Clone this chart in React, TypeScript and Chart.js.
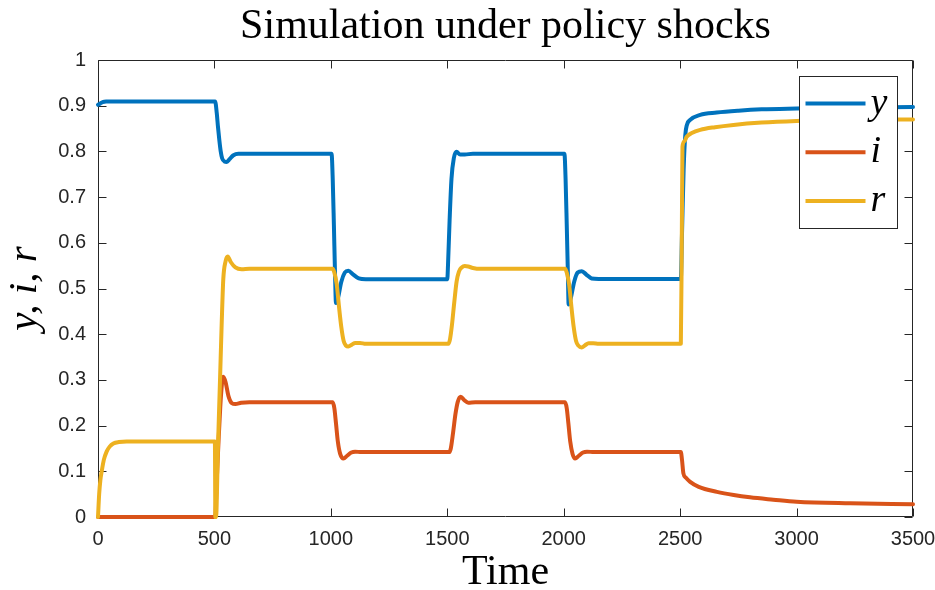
import React, { useEffect, useRef } from 'react';
import { Chart, registerables } from 'chart.js';

Chart.register(...registerables);

// ---------- data ----------
const xTicks = [0, 500, 1000, 1500, 2000, 2500, 3000, 3500];
const xTickLabels = ['0', '500', '1000', '1500', '2000', '2500', '3000', '3500'];
const yTicks = [0, 0.1, 0.2, 0.3, 0.4, 0.5, 0.6, 0.7, 0.8, 0.9, 1];
const yTickLabels = ['0', '0.1', '0.2', '0.3', '0.4', '0.5', '0.6', '0.7', '0.8', '0.9', '1'];

const seriesNames = ['y', 'i', 'r'];
const seriesColors = ['#0072BD', '#D95319', '#EDB120'];

// output y
const yTime = [0, 10, 20, 35, 503, 510, 515, 521, 527, 533, 543, 553, 565, 580, 603, 640,
  1003, 1008, 1013, 1018, 1022, 1030, 1045, 1060, 1075, 1095, 1120, 1150,
  1500, 1503, 1510, 1518, 1528, 1540, 1555, 1575, 1610,
  2003, 2008, 2013, 2018, 2021, 2030, 2045, 2060, 2078, 2098, 2120, 2150,
  2503, 2508, 2515, 2522, 2529, 2543, 2586, 2657, 2750, 2850, 3000, 3200, 3500];
const yValues = [0.902, 0.905, 0.908, 0.909, 0.909, 0.884, 0.855, 0.825, 0.80, 0.785, 0.778, 0.777, 0.783, 0.791, 0.795, 0.795,
  0.795, 0.74, 0.64, 0.53, 0.468, 0.478, 0.515, 0.535, 0.539, 0.531, 0.522, 0.520,
  0.520, 0.55, 0.65, 0.74, 0.785, 0.799, 0.793, 0.793, 0.795,
  0.795, 0.74, 0.64, 0.53, 0.465, 0.478, 0.515, 0.535, 0.538, 0.530, 0.522, 0.521,
  0.521, 0.62, 0.76, 0.835, 0.858, 0.869, 0.880, 0.885, 0.889, 0.892, 0.894, 0.896, 0.897];

// interest rate i
const iTime = [0, 503, 510, 518, 525, 532, 538, 548, 560, 575, 590, 615, 650,
  1008, 1015, 1022, 1030, 1040, 1054, 1070, 1088, 1104, 1130,
  1508, 1515, 1525, 1535, 1545, 1558, 1572, 1590, 1620,
  2006, 2013, 2020, 2028, 2038, 2049, 2065, 2083, 2100, 2130,
  2503, 2508, 2514, 2525, 2543, 2580, 2658, 2730, 2800, 2900, 3000, 3230, 3500];
const iValues = [0, 0, 0.08, 0.17, 0.24, 0.29, 0.307, 0.295, 0.265, 0.249, 0.247, 0.250, 0.251,
  0.251, 0.238, 0.205, 0.165, 0.138, 0.128, 0.134, 0.141, 0.143, 0.142,
  0.142, 0.150, 0.185, 0.225, 0.252, 0.263, 0.256, 0.250, 0.251,
  0.251, 0.238, 0.205, 0.165, 0.138, 0.128, 0.134, 0.141, 0.143, 0.142,
  0.142, 0.125, 0.0955, 0.086, 0.077, 0.066, 0.055, 0.048, 0.043, 0.038, 0.0335, 0.030, 0.028];

// r
const rTime = [0, 5, 10, 16, 25, 37, 50, 66, 90, 123, 502, 504, 507, 515, 524, 531, 538, 548, 557, 570, 590, 617, 650,
  1008, 1015, 1025, 1035, 1045, 1055, 1065, 1075, 1090, 1105, 1125, 1150,
  1505, 1512, 1520, 1530, 1540, 1550, 1562, 1575, 1590, 1610, 1640,
  2006, 2013, 2023, 2033, 2043, 2053, 2063, 2077, 2092, 2107, 2127, 2150,
  2503, 2507, 2510, 2518, 2528, 2550, 2586, 2650, 2729, 2850, 3000, 3200, 3500];
const rValues = [0, 0.05, 0.08, 0.10, 0.125, 0.143, 0.154, 0.161, 0.164, 0.165, 0.165, 0, 0, 0.15, 0.30, 0.42, 0.52, 0.56, 0.570, 0.558, 0.546, 0.542, 0.543,
  0.543, 0.535, 0.51, 0.46, 0.415, 0.385, 0.375, 0.373, 0.377, 0.381, 0.381, 0.379,
  0.379, 0.39, 0.42, 0.47, 0.515, 0.537, 0.546, 0.549, 0.548, 0.545, 0.543,
  0.543, 0.535, 0.51, 0.46, 0.415, 0.385, 0.375, 0.371, 0.376, 0.380, 0.380, 0.379,
  0.379, 0.60, 0.81, 0.822, 0.832, 0.840, 0.847, 0.853, 0.858, 0.863, 0.8665, 0.869, 0.870];

const toPoints = (t: number[], v: number[]) => t.map((tt, k) => ({ x: tt, y: v[k] }));

const AXIS_COLOR = '#262626';

const framePlugin = {
  id: 'frame',
  beforeDatasetsDraw(chart: any) {
    const { ctx, chartArea } = chart;
    const { left, right, top, bottom } = chartArea;
    const xs = chart.scales.x;
    const ys = chart.scales.y;
    const L = 8;
    ctx.save();
    ctx.strokeStyle = AXIS_COLOR;
    ctx.lineWidth = 1;
    ctx.beginPath();
    const l = Math.round(left) + 0.5, r = Math.round(right) - 0.5;
    const t = Math.round(top) + 0.5, b = Math.round(bottom) - 0.5;
    ctx.moveTo(l, t); ctx.lineTo(r, t); ctx.lineTo(r, b); ctx.lineTo(l, b); ctx.closePath();
    xTicks.forEach((v) => {
      const px = Math.round(xs.getPixelForValue(v)) + 0.5;
      ctx.moveTo(px, b); ctx.lineTo(px, b - L);
      ctx.moveTo(px, t); ctx.lineTo(px, t + L);
    });
    yTicks.forEach((v) => {
      const py = Math.round(ys.getPixelForValue(v)) + 0.5;
      ctx.moveTo(l, py); ctx.lineTo(l + L, py);
      ctx.moveTo(r, py); ctx.lineTo(r - L, py);
    });
    ctx.stroke();
    ctx.restore();
  },
};

const legendPlugin = {
  id: 'innerLegend',
  afterDatasetsDraw(chart: any) {
    const { ctx, chartArea } = chart;
    const bx = Math.round(chartArea.right) - 114 + 0.5;
    const by = Math.round(chartArea.top) + 16 + 0.5;
    const bw = 98, bh = 152;
    ctx.save();
    ctx.fillStyle = '#ffffff';
    ctx.fillRect(bx, by, bw, bh);
    ctx.strokeStyle = AXIS_COLOR;
    ctx.lineWidth = 1;
    ctx.strokeRect(bx, by, bw, bh);
    ctx.font = 'italic 38px "Liberation Serif", "DejaVu Serif", serif';
    ctx.textAlign = 'left';
    ctx.textBaseline = 'alphabetic';
    seriesNames.forEach((name, k) => {
      const ly = by + 27 + k * 48.7;
      ctx.strokeStyle = seriesColors[k];
      ctx.lineWidth = 4;
      ctx.beginPath();
      ctx.moveTo(bx + 6, ly);
      ctx.lineTo(bx + 66, ly);
      ctx.stroke();
      ctx.fillStyle = '#000000';
      ctx.fillText(name, bx + 71, ly + 10);
    });
    ctx.restore();
  },
};

export default function App() {
  const canvasRef = useRef<HTMLCanvasElement | null>(null);

  useEffect(() => {
    document.body.style.margin = '0';
    const canvas = canvasRef.current;
    if (!canvas) return;
    const chart = new Chart(canvas, {
      type: 'line',
      data: {
        datasets: [
          { label: seriesNames[0], data: toPoints(yTime, yValues), borderColor: seriesColors[0], order: 3 },
          { label: seriesNames[1], data: toPoints(iTime, iValues), borderColor: seriesColors[1], order: 2 },
          { label: seriesNames[2], data: toPoints(rTime, rValues), borderColor: seriesColors[2], order: 1 },
        ].map((d) => ({
          ...d,
          borderWidth: 4,
          pointRadius: 0,
          fill: false,
          cubicInterpolationMode: 'monotone' as const,
          clip: false as any,
          borderCapStyle: 'round' as const,
          borderJoinStyle: 'round' as const,
        })),
      },
      options: {
        animation: false,
        responsive: false,
        devicePixelRatio: 1,
        layout: { padding: { left: 0, right: 22, top: 0, bottom: 0 } },
        plugins: {
          legend: { display: false },
          tooltip: { enabled: false },
          title: {
            display: true,
            text: 'Simulation under policy shocks',
            fullSize: false,
            color: '#000000',
            font: { family: '"Liberation Serif", "DejaVu Serif", serif', size: 42, weight: 'normal', lineHeight: 1.2 },
            padding: { top: 2, bottom: 7.6 },
          },
        },
        scales: {
          x: {
            type: 'linear',
            min: 0,
            max: 3500,
            grid: { display: false, drawTicks: false, tickLength: 0 },
            border: { display: false },
            afterBuildTicks: (s: any) => { s.ticks = xTicks.map((v) => ({ value: v })); },
            afterFit: (s: any) => { s.height = 73; s.paddingLeft = 0; s.paddingRight = 0; },
            ticks: {
              color: AXIS_COLOR,
              font: { family: '"Liberation Sans", Arial, sans-serif', size: 20 },
              padding: 10,
              maxRotation: 0,
              autoSkip: false,
              callback: (_v: any, idx: number) => xTickLabels[idx],
            },
            title: {
              display: true,
              text: 'Time',
              color: '#000000',
              font: { family: '"Liberation Serif", "DejaVu Serif", serif', size: 42, weight: 'normal', lineHeight: 0.8 },
              padding: { top: 0, bottom: 0 },
            },
          },
          y: {
            type: 'linear',
            min: 0,
            max: 1,
            grid: { display: false, drawTicks: false, tickLength: 0 },
            border: { display: false },
            afterBuildTicks: (s: any) => { s.ticks = yTicks.map((v) => ({ value: v })); },
            afterFit: (s: any) => { s.width = 98; s.paddingTop = 0; s.paddingBottom = 0; },
            ticks: {
              color: AXIS_COLOR,
              font: { family: '"Liberation Sans", Arial, sans-serif', size: 20 },
              padding: 12,
              autoSkip: false,
              callback: (_v: any, idx: number) => yTickLabels[idx],
            },
            title: {
              display: true,
              text: 'y, i, r',
              color: '#000000',
              font: { family: '"Liberation Serif", "DejaVu Serif", serif', size: 41, style: 'italic', weight: 'normal', lineHeight: 1 },
              padding: { top: 5, bottom: 0 },
            },
          },
        },
      },
      plugins: [framePlugin, legendPlugin],
    });
    return () => chart.destroy();
  }, []);

  return (
    <div style={{ width: 935, height: 590, background: '#ffffff' }}>
      <canvas ref={canvasRef} width={935} height={590} />
    </div>
  );
}
